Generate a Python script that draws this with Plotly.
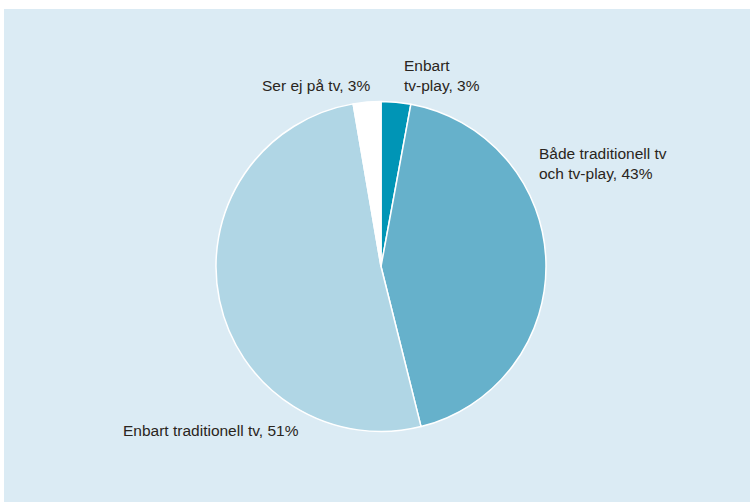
import plotly.graph_objects as go

categories = ["Enbart tv-play", "Både traditionell tv och tv-play", "Enbart traditionell tv", "Ser ej på tv"]
values = [2.9, 43.2, 51.2, 2.7]
label_texts = ["Enbart<br>tv-play, 3%", "Både traditionell tv<br>och tv-play, 43%",
               "Enbart traditionell tv, 51%", "Ser ej på tv, 3%"]
colors = ["#0095b6", "#66b1cb", "#b0d6e5", "#ffffff"]

W, H = 750, 503
cx, cy, r = 381, 266.5, 165

fig = go.Figure(go.Pie(
    labels=categories, values=values, sort=False, direction="clockwise", rotation=0,
    marker=dict(colors=colors, line=dict(color="#ffffff", width=1.5)),
    textinfo="none", hoverinfo="label+percent", showlegend=False,
    domain=dict(x=[(cx - r) / W, (cx + r) / W], y=[(H - cy - r) / H, (H - cy + r) / H]),
))

font = dict(family="Liberation Sans, Arial, sans-serif", size=15.5, color="#2a2520")
# label anchor positions (pixels): (x, y, xanchor)
pos = [(402, 76, "left"), (537, 164, "left"), (121, 430, "left"), (372, 86, "right")]
for (x, y, xa), t in zip(pos, label_texts):
    fig.add_annotation(x=x / W, y=1 - y / H, xref="paper", yref="paper", text=t,
                       showarrow=False, xanchor=xa, yanchor="middle", align="left", font=font)

fig.add_shape(type="rect", xref="paper", yref="paper", x0=4 / W, x1=1, y0=1 - 502 / H, y1=1 - 9 / H,
              fillcolor="#dbebf4", line=dict(width=0), layer="below")

fig.update_layout(width=W, height=H, margin=dict(l=0, r=0, t=0, b=0),
                  paper_bgcolor="#ffffff", plot_bgcolor="#ffffff")
fig.write_html("out.html", config={"displayModeBar": False})

with open("out.html", encoding="utf-8") as f:
    html = f.read()
html = html.replace("<head>", "<head><style>html,body{margin:0;padding:0;overflow:hidden;}</style>", 1)
with open("out.html", "w", encoding="utf-8") as f:
    f.write(html)
